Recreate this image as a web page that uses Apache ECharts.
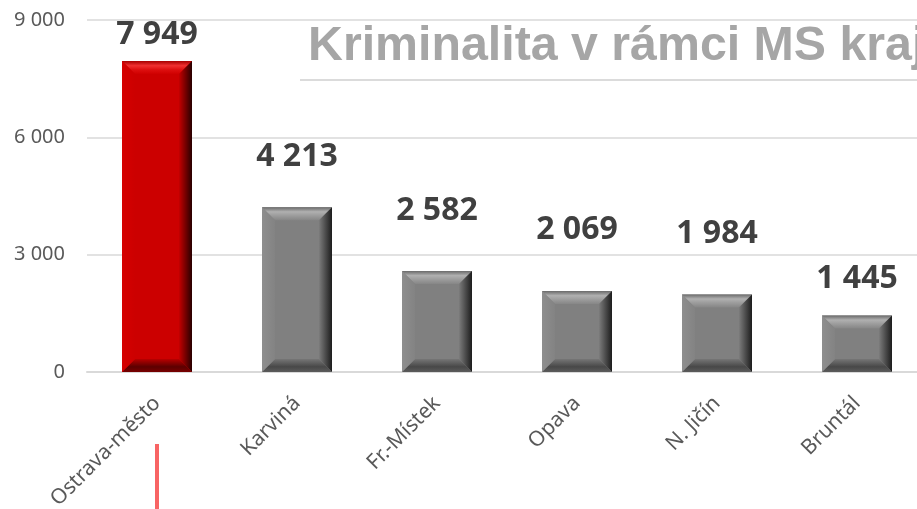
<!DOCTYPE html>
<html>
<head>
<meta charset="utf-8">
<script src="https://cdn.jsdelivr.net/npm/echarts@6/dist/echarts.min.js"></script>
<style>
  html, body { margin: 0; padding: 0; background: #fff; }
  #chart { width: 917px; height: 509px; }
</style>
</head>
<body>
<div id="chart"></div>
<script>
// data
var categories = ['Ostrava-město', 'Karviná', 'Fr.-Místek', 'Opava', 'N. Jičín', 'Bruntál'];
var values = [7949, 4213, 2582, 2069, 1984, 1445];
var yTicks = [0, 3000, 6000, 9000];

// styling (label gap above each bar, highlighted bar index)
var labelGap = [10, 34, 44, 45, 45, 21];
var highlight = 0;

function fmt(v) {
  return String(v).replace(/\B(?=(\d{3})+(?!\d))/g, ' ');
}

function grad(x, y, x2, y2, stops) {
  return new echarts.graphic.LinearGradient(x, y, x2, y2, stops.map(function (c) {
    return { offset: c[0], color: c[1] };
  }));
}

var palettes = {
  gray: {
    body: '#808080',
    top: [[0, '#6a6a6a'], [0.35, '#b0b0b0'], [0.65, '#9c9c9c'], [1, '#868686']],
    right: [[0, '#7c7c7c'], [1, '#1c1c1c']],
    bottom: [[0, '#767676'], [0.6, '#484848'], [1, '#5c5c5c']],
    left: [[0, '#8e8e8e'], [1, '#838383']]
  },
  red: {
    body: '#cc0000',
    top: [[0, '#a80000'], [0.35, '#f03030'], [0.65, '#de1010'], [1, '#cf0000']],
    right: [[0, '#c40000'], [1, '#280000']],
    bottom: [[0, '#b80000'], [0.6, '#5c0000'], [1, '#780000']],
    left: [[0, '#d60000'], [1, '#cc0000']]
  }
};

function renderBar(params, api) {
  var idx = api.value(0);
  var val = api.value(1);
  var top = api.coord([idx, val]);
  var base = api.coord([idx, 0]);
  var bw = api.size([1, 0])[0] * 0.5;
  var x0 = top[0] - bw / 2, x1 = top[0] + bw / 2;
  var y0 = top[1], y1 = base[1];
  var b = Math.min(13, (y1 - y0) / 2);
  var p = idx === highlight ? palettes.red : palettes.gray;
  return {
    type: 'group',
    children: [
      { type: 'rect', shape: { x: x0, y: y0, width: bw, height: y1 - y0 }, style: { fill: p.body } },
      { type: 'polygon', shape: { points: [[x0, y0], [x1, y0], [x1 - b, y0 + b], [x0 + b, y0 + b]] },
        style: { fill: grad(0, 0, 0, 1, p.top) } },
      { type: 'polygon', shape: { points: [[x1, y0], [x1, y1], [x1 - b, y1 - b], [x1 - b, y0 + b]] },
        style: { fill: grad(0, 0, 1, 0, p.right) } },
      { type: 'polygon', shape: { points: [[x0, y1], [x1, y1], [x1 - b, y1 - b], [x0 + b, y1 - b]] },
        style: { fill: grad(0, 0, 0, 1, p.bottom) } },
      { type: 'polygon', shape: { points: [[x0, y0], [x0 + b, y0 + b], [x0 + b, y1 - b], [x0, y1]] },
        style: { fill: grad(0, 0, 1, 0, p.left) } },
      { type: 'text', x: top[0], y: y0 - labelGap[idx],
        style: { text: fmt(val), align: 'center', verticalAlign: 'bottom',
          fontFamily: 'Noto Sans', fontWeight: 'bold', fontSize: 32, fill: '#404040' } }
    ]
  };
}

var chart = echarts.init(document.getElementById('chart'));
chart.setOption({
  backgroundColor: '#fff',
  animation: false,
  title: {
    text: 'Kriminalita v rámci MS kraj',
    left: 308,
    top: 23,
    padding: 0,
    textStyle: { fontFamily: 'Liberation Sans', fontWeight: 'bold', fontSize: 48.3, color: '#a6a6a6' }
  },
  graphic: [
    { type: 'line', shape: { x1: 300, y1: 80, x2: 917, y2: 80 }, style: { stroke: '#cfcfcf', lineWidth: 1.5 } },
    { type: 'line', shape: { x1: 157, y1: 444, x2: 157, y2: 509 }, style: { stroke: '#f86464', lineWidth: 4 } }
  ],
  grid: { left: 87, width: 840, top: 20, bottom: 137, outerBoundsMode: 'none', containLabel: false },
  xAxis: {
    type: 'category',
    data: categories,
    axisLine: { lineStyle: { color: '#d9d9d9', width: 2 } },
    axisTick: { show: false },
    axisLabel: { rotate: 45, margin: 28, fontFamily: 'Noto Sans', fontSize: 21, color: '#595959', interval: 0 }
  },
  yAxis: {
    type: 'value',
    min: yTicks[0],
    max: yTicks[yTicks.length - 1],
    interval: yTicks[1] - yTicks[0],
    axisLine: { show: false },
    axisTick: { show: false },
    splitLine: { lineStyle: { color: '#d9d9d9', width: 1.5 } },
    axisLabel: { margin: 22, fontFamily: 'Noto Sans', fontSize: 20, color: '#595959', formatter: fmt }
  },
  series: [{
    type: 'custom',
    renderItem: renderBar,
    data: values.map(function (v, i) { return [i, v]; }),
    encode: { x: 0, y: 1 },
    z: 3
  }]
});
</script>
</body>
</html>
